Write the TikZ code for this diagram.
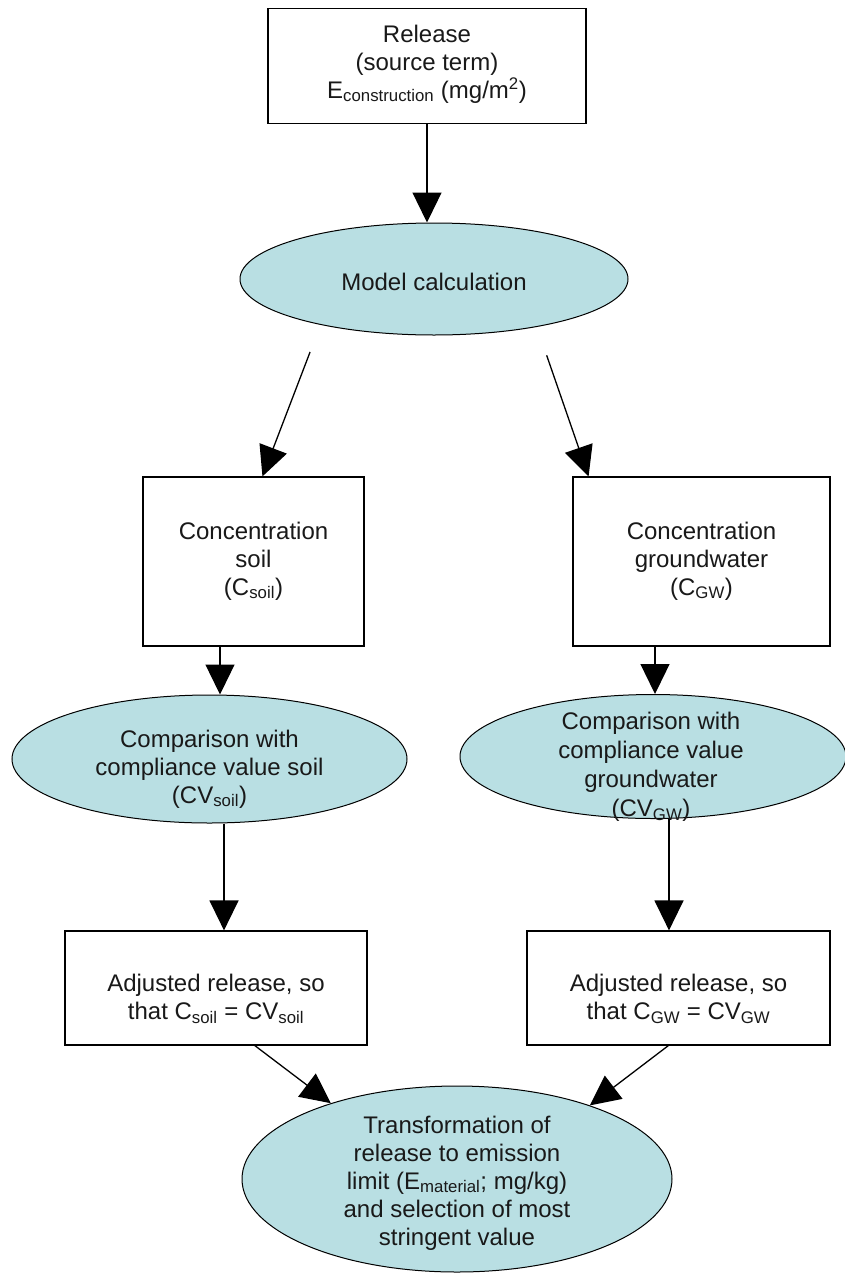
\documentclass[tikz,border=0pt]{standalone}
\usepackage{fontspec}
\setmainfont{Liberation Sans}
\usetikzlibrary{arrows.meta,shapes.geometric,calc}
\definecolor{ellfill}{HTML}{B9DFE3}
\begin{document}
\begin{tikzpicture}[x=1pt,y=-1pt,
  txt/.style={font=\fontsize{24}{28}\selectfont, align=center, inner sep=0pt, text=black!90},
  rbox/.style={draw, line width=1.2pt, inner sep=0pt, fill=white},
  ell/.style={ellipse, draw, line width=1pt, fill=ellfill, inner sep=0pt},
  arr/.style={line width=1.3pt, -{Triangle[width=29pt,length=30pt]}}]
\useasboundingbox (0,0) rectangle (845,1277);
\fill[white] (0,0) rectangle (845,1277);

% nodes
\node[rbox, minimum width=318pt, minimum height=115pt] (release) at (427,66) {};
\node[txt] (releaset) at (427,64) {Release\\(source term)\\E\textsubscript{construction} (mg/m\textsuperscript{2})};

\node[ell, minimum width=388pt, minimum height=112pt] (model) at (434,279) {};
\node[txt] (modelt) at (434,282) {Model calculation};

\node[rbox, minimum width=221pt, minimum height=169pt] (csoil) at (253.5,561.5) {};
\node[txt] (csoilt) at (253.5,561) {Concentration\\soil\\(C\textsubscript{soil})};

\node[rbox, minimum width=257pt, minimum height=169pt] (cgw) at (701.5,561.5) {};
\node[txt] (cgwt) at (701.5,561) {Concentration\\groundwater\\(C\textsubscript{GW})};

\node[ell, minimum width=395pt, minimum height=128pt] (cvsoil) at (209.5,759) {};
\node[txt] (cvsoilt) at (209.5,769) {Comparison with\\compliance value soil\\(CV\textsubscript{soil})};

\node[ell, minimum width=386pt, minimum height=124pt] (cvgw) at (653,756.5) {};
\node[txt, font=\fontsize{24}{29}\selectfont] (cvgwt) at (651,767) {Comparison with\\compliance value\\groundwater\\(CV\textsubscript{GW})};

\node[rbox, minimum width=302pt, minimum height=114pt] (adjsoil) at (216,988) {};
\node[txt] (adjsoilt) at (216,999) {Adjusted release, so\\that C\textsubscript{soil} = CV\textsubscript{soil}};

\node[rbox, minimum width=303pt, minimum height=114pt] (adjgw) at (678.5,988) {};
\node[txt] (adjgwt) at (678.5,999) {Adjusted release, so\\that C\textsubscript{GW} = CV\textsubscript{GW}};

\node[ell, minimum width=430pt, minimum height=186pt] (final) at (457,1179) {};
\node[txt] (finalt) at (457,1183) {Transformation of\\release to emission\\limit (E\textsubscript{material}; mg/kg)\\and selection of most\\stringent value};

% connectors
\draw[arr] (release.south) -- (release.south |- model.north);
\draw[arr, shorten <=29pt] (model.202) -- (csoil.84);
\draw[arr, shorten <=30pt] (model.335) -- (cgw.143);
\draw[arr] ([xshift=-33.5pt]csoil.south) -- ([xshift=-33.5pt]csoil.south |- cvsoil.north);
\draw[arr] ([xshift=-46.5pt]cgw.south) -- ([xshift=-46.5pt]cgw.south |- cvgw.north);
\draw[arr] ([xshift=14.5pt]cvsoil.south) -- ([xshift=14.5pt]cvsoil.south |- adjsoil.north);
\draw[arr] ([xshift=16pt]cvgw.south) -- ([xshift=16pt]cvgw.south |- adjgw.north);
\draw[arr] (adjsoil.304) -- (final.149);
\draw[arr] (adjgw.260) -- (final.29);
\end{tikzpicture}
\end{document}
